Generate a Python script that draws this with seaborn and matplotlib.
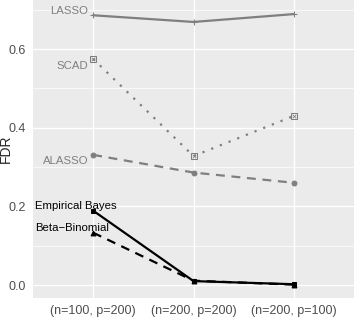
import numpy as np
import pandas as pd
import matplotlib
matplotlib.use("Agg")
import matplotlib.pyplot as plt
import seaborn as sns

# data
settings = ["(n=100, p=200)", "(n=200, p=200)", "(n=200, p=100)"]
lasso = [0.686, 0.669, 0.689]
scad = [0.575, 0.328, 0.430]
alasso = [0.331, 0.286, 0.260]
emp_bayes = [0.189, 0.010, 0.002]
beta_binom = [0.133, 0.011, 0.001]

methods = ["LASSO", "SCAD", "ALASSO", "Empirical Bayes", "Beta\u2212Binomial"]
values = [lasso, scad, alasso, emp_bayes, beta_binom]

df = pd.DataFrame({
    "setting": np.tile(settings, len(methods)),
    "pos": np.tile(np.arange(len(settings)), len(methods)),
    "method": np.repeat(methods, len(settings)),
    "FDR": np.concatenate(values),
})

grey = "#7f7f7f"
styles = {
    "LASSO": dict(color=grey, ls="-", marker="+", ms=5, lw=1.6),
    "SCAD": dict(color=grey, ls=(0, (1, 3.2)), marker="s", ms=4, lw=1.6, mfc="none"),
    "ALASSO": dict(color=grey, ls=(0, (4, 3)), marker="o", ms=3.5, lw=1.6),
    "Empirical Bayes": dict(color="black", ls="-", marker="s", ms=3.5, lw=1.6),
    "Beta\u2212Binomial": dict(color="black", ls=(0, (4, 3)), marker="^", ms=3.5, lw=1.6),
}
# label placement (offset in data units from first point), colour
labels = {
    "LASSO": (0.012, grey, "right"),
    "SCAD": (-0.017, grey, "right"),
    "ALASSO": (-0.015, grey, "right"),
    "Empirical Bayes": (0.012, "black", "left"),
    "Beta\u2212Binomial": (0.011, "black", "left"),
}

sns.set_theme(style="darkgrid", rc={
    "axes.facecolor": "#EBEBEB",
    "grid.color": "white",
})
plt.rcParams["font.family"] = ["Liberation Sans", "DejaVu Sans"]

fig = plt.figure(figsize=(3.56, 3.26), dpi=100)
ax = fig.add_axes([33 / 356, 1 - 298 / 326, 321 / 356, 298 / 326 - 0.001])

for m in methods:
    sub = df[df["method"] == m]
    st = styles[m]
    sns.lineplot(data=sub, x="pos", y="FDR", ax=ax, color=st["color"],
                 linestyle=st["ls"], marker=st["marker"], markersize=st["ms"],
                 linewidth=st["lw"], markeredgecolor=st["color"],
                 markerfacecolor=st.get("mfc", st["color"]), legend=False)
    if m == "SCAD":
        ax.scatter(sub["pos"], sub["FDR"], marker="x", s=6, color=grey, lw=0.6, zorder=5)

    dy, col, ha = labels[m]
    y0 = sub["FDR"].iloc[0]
    if ha == "right":
        ax.text(-0.05, y0 + dy, m, color=col, ha="right", va="center", fontsize=8.2)
    else:
        ax.text(-0.58, y0 + dy, m, color=col, ha="left", va="center", fontsize=8.2)

ax.set_xlim(-0.6, 2.6)
ax.set_ylim(-0.033, 0.724)
ax.set_xticks(range(len(settings)))
ax.set_xticklabels(settings)
ax.set_yticks([0.0, 0.2, 0.4, 0.6])
ax.set_yticklabels(["0.0", "0.2", "0.4", "0.6"])
ax.set_yticks([0.1, 0.3, 0.5, 0.7], minor=True)
ax.grid(True, which="major", color="white", lw=1.0)
ax.grid(True, which="minor", axis="y", color="white", lw=0.5)
ax.tick_params(axis="both", which="major", labelsize=9, labelcolor="#4d4d4d",
               length=3, color="#333333", pad=2)
ax.tick_params(axis="both", which="minor", length=0)
ax.set_xlabel("")
ax.set_ylabel("FDR", fontsize=10)
ax.yaxis.set_label_coords(-20 / 321, 0.5)
for s in ax.spines.values():
    s.set_visible(False)

fig.savefig("out.png", dpi=100)
